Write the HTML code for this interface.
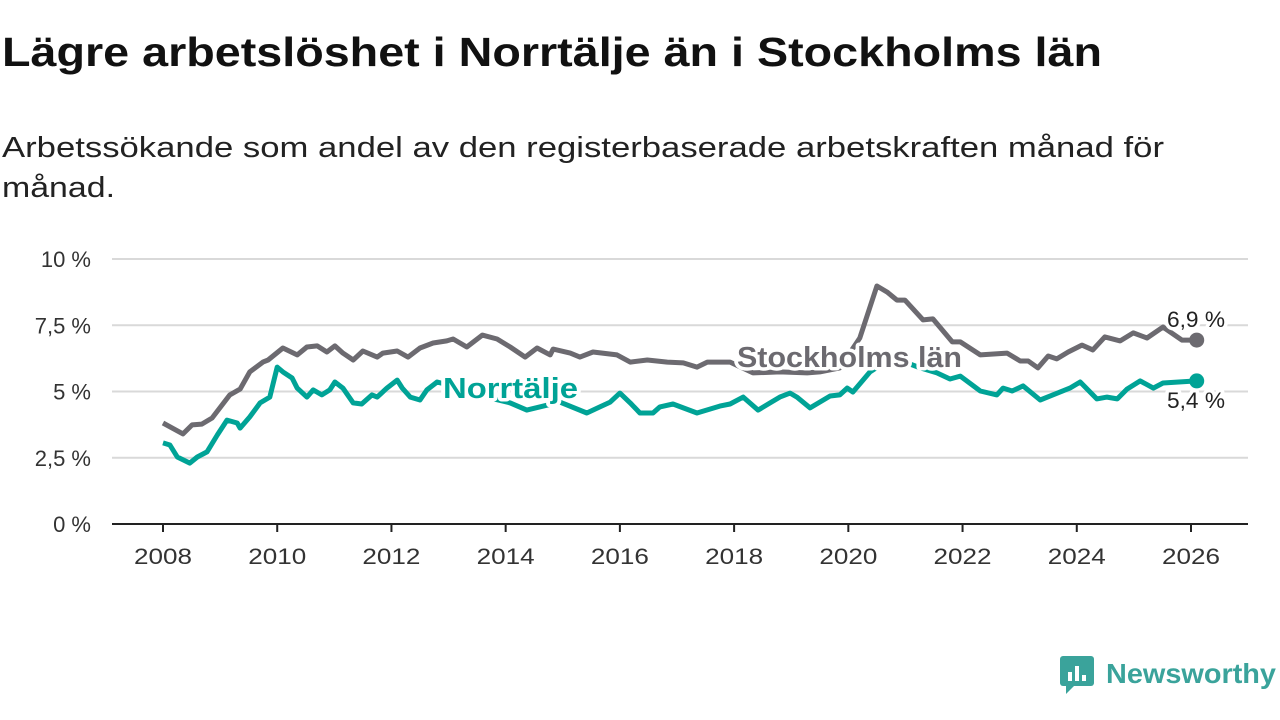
<!DOCTYPE html>
<html><head><meta charset="utf-8"><style>
html,body{margin:0;padding:0;background:#fff;}
svg{display:block;font-family:"Liberation Sans","DejaVu Sans",sans-serif;}
</style></head><body>
<svg id="chart" width="1280" height="720" viewBox="0 0 1280 720">
<text x="2" y="66" font-size="41" font-weight="bold" fill="#111" textLength="1100" lengthAdjust="spacingAndGlyphs">Lägre arbetslöshet i Norrtälje än i Stockholms län</text>
<text x="2" y="157" font-size="29" fill="#222" textLength="1162" lengthAdjust="spacingAndGlyphs">Arbetssökande som andel av den registerbaserade arbetskraften månad för</text>
<text x="2" y="197" font-size="29" fill="#222" textLength="113" lengthAdjust="spacingAndGlyphs">månad.</text>
<g id="grid"></g><g id="series"></g><g id="labels"></g>
<g>
<rect x="1060" y="656" width="34" height="30" rx="3" fill="#3aa39b"/>
<path d="M1066 686 L1066 694 L1074 686 Z" fill="#3aa39b"/>
<rect x="1068" y="672" width="4" height="9" fill="#fff"/><rect x="1075" y="666" width="4" height="15" fill="#fff"/><rect x="1082" y="675" width="4" height="6" fill="#fff"/>
<text x="1106" y="683" font-size="28" font-weight="bold" fill="#3aa39b" textLength="170" lengthAdjust="spacingAndGlyphs">Newsworthy</text>
</g>
</svg>
<script>
const yTicks=[0,2.5,5,7.5,10];
const yTickLabels=["0 %","2,5 %","5 %","7,5 %","10 %"];
const xTicks=[2008,2010,2012,2014,2016,2018,2020,2022,2024,2026];
const stockYears=[2008.0,2008.35,2008.51,2008.68,2008.86,2009.17,2009.35,2009.52,2009.75,2009.84,2010.10,2010.35,2010.52,2010.70,2010.87,2011.01,2011.15,2011.33,2011.50,2011.75,2011.85,2012.10,2012.29,2012.50,2012.73,2012.97,2013.08,2013.32,2013.59,2013.85,2014.08,2014.34,2014.55,2014.78,2014.83,2015.13,2015.30,2015.53,2015.95,2016.18,2016.48,2016.83,2017.11,2017.35,2017.53,2017.93,2018.33,2018.80,2019.28,2019.50,2019.85,2020.20,2020.50,2020.68,2020.85,2020.99,2021.31,2021.48,2021.82,2021.96,2022.31,2022.78,2023.01,2023.15,2023.32,2023.50,2023.65,2023.85,2024.09,2024.28,2024.49,2024.76,2024.99,2025.23,2025.51,2025.84,2026.10];
const stockVals=[3.81,3.40,3.74,3.77,4.00,4.87,5.09,5.74,6.11,6.19,6.64,6.38,6.68,6.72,6.49,6.72,6.45,6.19,6.53,6.30,6.45,6.53,6.30,6.64,6.83,6.91,6.98,6.68,7.13,6.98,6.68,6.30,6.64,6.38,6.60,6.45,6.30,6.49,6.38,6.11,6.19,6.11,6.08,5.92,6.11,6.11,5.70,5.74,5.70,5.74,5.89,7.02,8.98,8.75,8.45,8.45,7.70,7.74,6.87,6.87,6.38,6.45,6.15,6.15,5.89,6.34,6.23,6.49,6.75,6.57,7.06,6.91,7.21,7.02,7.43,6.94,6.94];
const norrYears=[2008.0,2008.12,2008.25,2008.47,2008.60,2008.77,2008.95,2009.12,2009.30,2009.35,2009.52,2009.70,2009.87,2010.00,2010.10,2010.26,2010.35,2010.52,2010.63,2010.78,2010.92,2011.01,2011.15,2011.33,2011.48,2011.66,2011.75,2011.92,2012.10,2012.19,2012.33,2012.50,2012.62,2012.80,2013.20,2013.73,2014.08,2014.37,2014.95,2015.42,2015.65,2015.83,2016.00,2016.18,2016.35,2016.58,2016.70,2016.93,2017.11,2017.35,2017.75,2017.93,2018.16,2018.42,2018.63,2018.80,2018.98,2019.10,2019.33,2019.68,2019.85,2019.98,2020.08,2020.38,2020.64,2020.99,2021.26,2021.55,2021.78,2021.96,2022.31,2022.60,2022.71,2022.87,2023.06,2023.36,2023.58,2023.88,2024.06,2024.35,2024.53,2024.71,2024.88,2025.11,2025.34,2025.51,2026.10];
const norrVals=[3.06,2.98,2.53,2.30,2.53,2.72,3.36,3.92,3.81,3.62,4.04,4.57,4.79,5.92,5.74,5.51,5.13,4.79,5.06,4.87,5.06,5.36,5.13,4.57,4.53,4.87,4.79,5.13,5.43,5.13,4.79,4.68,5.06,5.36,5.13,4.75,4.57,4.30,4.60,4.19,4.42,4.60,4.94,4.57,4.19,4.19,4.42,4.53,4.38,4.19,4.45,4.53,4.79,4.30,4.57,4.79,4.94,4.79,4.38,4.83,4.87,5.13,4.98,5.74,6.11,6.11,5.89,5.70,5.47,5.58,5.02,4.87,5.13,5.02,5.21,4.68,4.87,5.13,5.36,4.72,4.79,4.72,5.09,5.40,5.13,5.32,5.40];
const NS="http://www.w3.org/2000/svg";
const X0=163,X1=1191,Y0=524,Y1=259;
function xs(y){return X0+(y-2008)/(2026-2008)*(X1-X0);}
function ys(v){return Y0-v/10*(Y0-Y1);}
function mk(t,a,p){const e=document.createElementNS(NS,t);for(const k in a)e.setAttribute(k,a[k]);p.appendChild(e);return e;}
const grid=document.getElementById('grid'),ser=document.getElementById('series'),lab=document.getElementById('labels');
yTicks.forEach((v,i)=>{
 if(v>0){const l=mk('line',{x1:112,x2:1248,y1:ys(v),y2:ys(v),stroke:'#d9d9d9','stroke-width':2},grid);
 
 }
 const t=mk('text',{x:91,y:ys(v)+8,'text-anchor':'end','font-size':22,fill:'#333'},grid);t.textContent=yTickLabels[i];
 
 
});
const ax=mk('line',{x1:112,x2:1248,y1:Y0,y2:Y0,stroke:'#222','stroke-width':2},grid);


xTicks.forEach(y=>{
 mk('line',{x1:xs(y),x2:xs(y),y1:Y0,y2:Y0+8,stroke:'#222','stroke-width':2},grid);
 const t=mk('text',{x:xs(y)-29,y:564,'font-size':22,fill:'#333',textLength:58,lengthAdjust:'spacingAndGlyphs'},grid);t.textContent=y;
 
 
});
function line(yrs,vals,col,name){
 const d=yrs.map((y,i)=>(i?'L':'M')+xs(y).toFixed(1)+' '+ys(vals[i]).toFixed(1)).join(' ');
 const p=mk('path',{d:d,fill:'none',stroke:col,'stroke-width':5,'stroke-linejoin':'round'},ser);
 
 
 const n=yrs.length-1;
 const c=mk('circle',{cx:xs(yrs[n]),cy:ys(vals[n]),r:7.5,fill:col},ser);
 
 
}
line(norrYears,norrVals,'#00a396','norrtalje-line');
line(stockYears,stockVals,'#6c6a70','stockholm-line');
function lbl(txt,x,y,col,size,bold,name,len){
 const a={x:x,y:y,fill:col,'font-size':size,'font-weight':bold?'bold':'normal',stroke:'#fff','stroke-width':7,'paint-order':'stroke','stroke-linejoin':'round'};
 if(len){a.textLength=len;a.lengthAdjust='spacingAndGlyphs';}
 const t=mk('text',a,lab);
 t.textContent=txt;
 
 
}
lbl('Stockholms län',737,367,'#6c6a70',29,true,'stockholm-label',225);
lbl('Norrtälje',443,398,'#00a396',29,true,'norrtalje-label',135);
lbl('6,9 %',1167,327,'#222',22,false,'stockholm-last-value',58);
lbl('5,4 %',1167,408,'#222',22,false,'norrtalje-last-value',58);
</script>
</body></html>
